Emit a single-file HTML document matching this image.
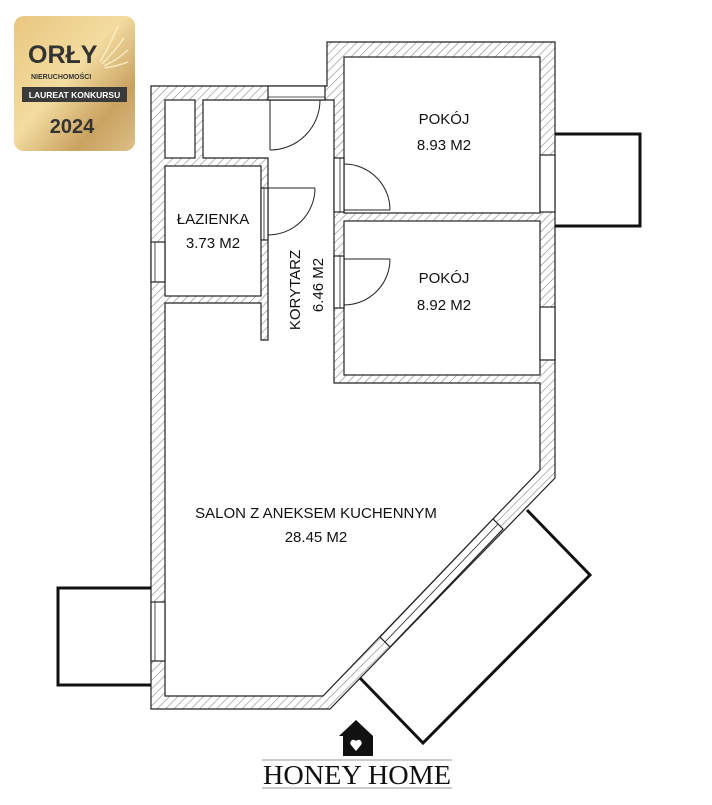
<!DOCTYPE html>
<html><head><meta charset="utf-8"><style>
html,body{margin:0;padding:0;background:#fff;}
svg{display:block;}
</style></head><body>
<svg width="712" height="805" viewBox="0 0 712 805" xmlns="http://www.w3.org/2000/svg" style="font-family:'Liberation Sans',sans-serif">
<defs>
<pattern id="h" width="6" height="6" patternUnits="userSpaceOnUse" patternTransform="rotate(45)">
<rect width="6" height="6" fill="#fff"/><line x1="0" y1="0" x2="0" y2="6" stroke="#888" stroke-width="1.2"/>
</pattern>
<linearGradient id="g" x1="0" y1="0" x2="1" y2="1">
<stop offset="0" stop-color="#e9c77f"/><stop offset="0.45" stop-color="#f3dca0"/><stop offset="0.75" stop-color="#c9a260"/><stop offset="1" stop-color="#dcbf86"/>
</linearGradient>
</defs>
<!-- badge -->
<rect x="14" y="16" width="121" height="135" rx="10" fill="url(#g)"/>
<g stroke="#fff3d0" stroke-width="1.5" fill="none" opacity="0.8">
<path d="M100 62 Q110 45 118 26"/><path d="M102 64 Q114 52 124 38"/><path d="M104 66 Q117 60 128 50"/><path d="M105 68 Q118 66 128 62"/>
</g>
<text x="28" y="63" font-size="25" font-weight="bold" fill="#333">ORŁY</text>
<text x="31" y="79" font-size="7" font-weight="bold" fill="#333">NIERUCHOMOŚCI</text>
<rect x="22" y="87" width="105" height="15" fill="#3a3a3a"/>
<text x="74.5" y="98" font-size="8.5" fill="#fff" text-anchor="middle" font-weight="bold">LAUREAT KONKURSU</text>
<text x="72" y="133" font-size="20" font-weight="bold" fill="#333" text-anchor="middle">2024</text>

<!-- walls -->
<polygon points="151,86 327,86 327,42 555,42 555,478 330,709 151,709" fill="url(#h)" stroke="#222" stroke-width="1.2"/>
<g fill="#fff" stroke="#222" stroke-width="1.2">
<rect x="165" y="100" width="30" height="58"/>
<polygon points="203,100 334,100 334,383 540,383 540,470 323,696 165,696 165,303 261,303 261,340 268,340 268,158 203,158"/>
<rect x="165" y="166" width="96" height="130"/>
<rect x="344" y="57" width="196" height="156"/>
<rect x="344" y="221" width="196" height="154"/>
<rect x="268" y="86" width="57" height="14"/>
<rect x="261" y="188" width="7" height="52"/>
<rect x="334" y="158" width="10" height="54"/>
<rect x="334" y="256" width="10" height="52"/>
<rect x="151" y="242" width="14" height="40"/>
<rect x="540" y="155" width="15" height="57"/>
<rect x="540" y="307" width="15" height="53"/>
<rect x="151" y="602" width="14" height="59"/>
<polygon points="493,519 380,637 390,647 503,529"/>
</g>
<g stroke="#222" stroke-width="0.8" fill="none">
<line x1="268" y1="97" x2="325" y2="97"/>
<line x1="264" y1="188" x2="264" y2="240"/>
<line x1="340" y1="158" x2="340" y2="212"/>
<line x1="340" y1="256" x2="340" y2="308"/>
<line x1="498" y1="524" x2="385" y2="642"/>
<line x1="155" y1="242" x2="155" y2="282"/>
<line x1="155" y1="602" x2="155" y2="661"/>
</g>
<!-- doors -->
<g stroke="#222" stroke-width="1" fill="none">
<line x1="270" y1="100" x2="270" y2="150"/><path d="M270 150 A50 50 0 0 0 320 100"/>
<line x1="268" y1="188" x2="315" y2="188"/><path d="M315 188 A47 47 0 0 1 268 235"/>
<line x1="344" y1="210" x2="390" y2="210"/><path d="M390 210 A46 46 0 0 0 344 164"/>
<line x1="344" y1="259" x2="390" y2="259"/><path d="M390 259 A46 46 0 0 1 344 305"/>
</g>
<!-- balconies -->
<g stroke="#111" stroke-width="3" fill="none">
<polyline points="555,134 640,134 640,226 555,226"/>
<polyline points="151,588 58,588 58,685 151,685"/>
<polyline points="360,678 423,743 590,575 527,510"/>
</g>
<!-- labels -->
<g font-size="15" fill="#111" text-anchor="middle">
<text x="444" y="124">POKÓJ</text><text x="444" y="150">8.93 M2</text>
<text x="444" y="283">POKÓJ</text><text x="444" y="310">8.92 M2</text>
<text x="213" y="224">ŁAZIENKA</text><text x="213" y="248">3.73 M2</text>
<text x="316" y="518">SALON Z ANEKSEM KUCHENNYM</text><text x="316" y="542">28.45 M2</text>
<text transform="translate(300,290) rotate(-90)">KORYTARZ</text>
<text transform="translate(323,285) rotate(-90)">6.46 M2</text>
</g>
<!-- logo -->
<polygon points="339,736 356,720 373,736 373,756 343,756 343,736" fill="#111"/>
<path d="M356 751 L351 745 A3 3 0 0 1 356 741 A3 3 0 0 1 361 745 Z" fill="#fff"/>
<line x1="262" y1="760" x2="452" y2="760" stroke="#999" stroke-width="1"/>
<line x1="262" y1="788" x2="452" y2="788" stroke="#999" stroke-width="1"/>
<text x="357" y="784" style="font-family:'Liberation Serif',serif" font-size="27" fill="#111" text-anchor="middle" textLength="188" lengthAdjust="spacingAndGlyphs">HONEY HOME</text>
</svg>
</body></html>
